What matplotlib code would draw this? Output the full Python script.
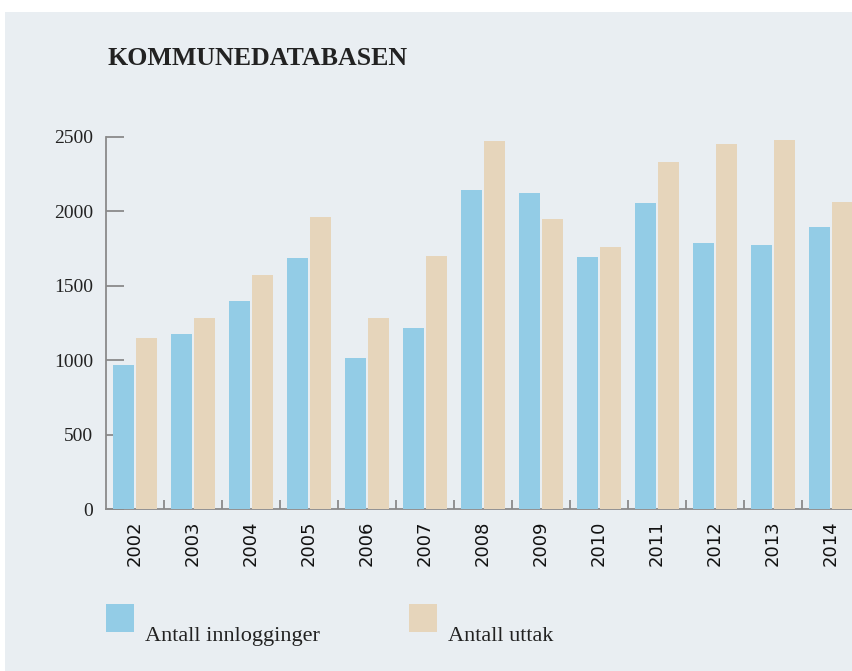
import matplotlib
matplotlib.use("Agg")
from matplotlib import pyplot as plt
from matplotlib.patches import Rectangle
import numpy as np


aar = ['2002', '2003', '2004', '2005', '2006', '2007', '2008',
       '2009', '2010', '2011', '2012', '2013', '2014']
innlogginger = [968, 1176, 1398, 1686, 1015, 1217, 2142,
                2122, 1692, 2055, 1787, 1773, 1894]
uttak = [1149, 1284, 1572, 1961, 1284, 1700, 2471,
         1948, 1759, 2331, 2451, 2478, 2062]

bla = '#93cce6'
beige = '#e6d5bb'
bakgrunn = '#e9eef2'
grå = '#8a8a8a'
serif = 'Liberation Serif'

fig = plt.figure(figsize=(8.52, 6.71), dpi=100)
fig.patch.set_facecolor('white')
# lys bakgrunnsflate
fig.patches.append(Rectangle((5 / 852, 0), 1, 1 - 12 / 671, transform=fig.transFigure,
                             facecolor=bakgrunn, edgecolor='none', zorder=-5))

ax = fig.add_axes([105.7 / 852, (671 - 509.3) / 671, 1 - 105.7 / 852, (509.3 - 136.7) / 671])
ax.set_facecolor('none')
ax.set_zorder(2)

x = np.arange(len(aar))
b = 0.365
ax.bar(x - 0.195, innlogginger, width=b, color=bla, zorder=3)
ax.bar(x + 0.195, uttak, width=b, color=beige, zorder=3)

ax.set_xlim(-0.505, 12.36)
ax.set_ylim(0, 2500)

for s in ['top', 'right']:
    ax.spines[s].set_visible(False)
for s in ['left', 'bottom']:
    ax.spines[s].set_color(grå)
    ax.spines[s].set_linewidth(1.3)
    ax.spines[s].set_zorder(2)

ax.set_yticks([0, 500, 1000, 1500, 2000, 2500])
ax.tick_params(axis='y', direction='in', length=13, width=1.3, color=grå, pad=9,
               labelsize=14, labelcolor='#222222')
for t in ax.get_yticklabels():
    t.set_fontfamily(serif)

ax.set_xticks(x)
ax.set_xticklabels(aar, rotation=90, fontsize=13, color='#111111')
ax.tick_params(axis='x', which='major', length=0, pad=8)
ax.set_xticks(np.arange(0.5, 12, 1), minor=True)
ax.tick_params(axis='x', which='minor', direction='in', length=6.5, width=1.3, color=grå)

fig.text(107 / 852, 1 - 65 / 671, 'KOMMUNEDATABASEN', fontsize=18.6, fontweight='bold',
         family=serif, color='#222222', va='baseline', ha='left')

# legende
fig.patches.append(Rectangle((106 / 852, 1 - 632 / 671), 28 / 852, 28 / 671,
                             transform=fig.transFigure, facecolor=bla, edgecolor='none'))
fig.patches.append(Rectangle((409 / 852, 1 - 632 / 671), 28 / 852, 28 / 671,
                             transform=fig.transFigure, facecolor=beige, edgecolor='none'))
fig.text(145 / 852, 1 - 641 / 671, 'Antall innlogginger', fontsize=16, family=serif,
         color='#222222', va='baseline', ha='left')
fig.text(448 / 852, 1 - 641 / 671, 'Antall uttak', fontsize=16, family=serif,
         color='#222222', va='baseline', ha='left')

fig.savefig('out.png', dpi=100, facecolor=fig.get_facecolor())
